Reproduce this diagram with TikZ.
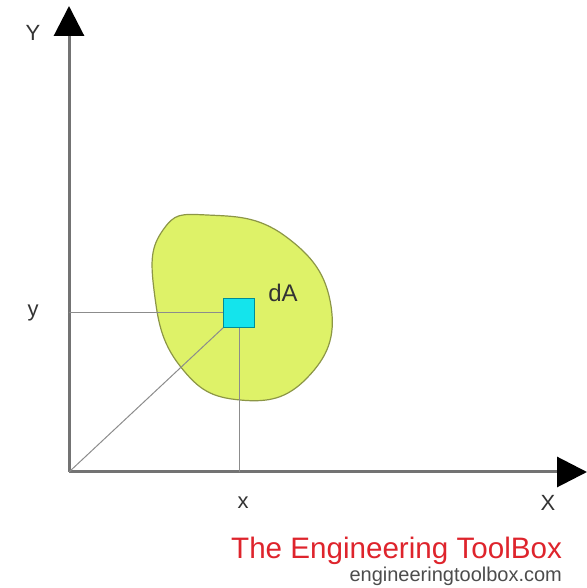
\documentclass[tikz,border=0pt]{standalone}
\usepackage{fontspec}
\setmainfont{Liberation Sans}
\usepackage{xcolor}
\usetikzlibrary{arrows.meta,positioning,calc}

\definecolor{areafill}{RGB}{222,242,104}
\definecolor{areaedge}{RGB}{140,150,70}
\definecolor{cellfill}{RGB}{20,228,236}
\definecolor{celledge}{RGB}{0,140,150}
\definecolor{brandred}{RGB}{222,36,44}

\begin{document}
\begin{tikzpicture}[
    x=0.5pt, y=0.5pt,
    axis/.style={line width=1.5pt, draw=black!55, -{Triangle[length=15pt, width=15pt, color=black]}},
    guide/.style={line width=0.5pt, draw=black!45},
    area/.style={fill=areafill, draw=areaedge, line width=0.6pt},
    cell/.style={rectangle, draw=celledge, fill=cellfill, line width=0.8pt, minimum width=15.5pt, minimum height=14.5pt, inner sep=0pt},
    axlabel/.style={font=\fontsize{11}{13}\selectfont, text=black!80}
]
    \useasboundingbox (0,0) rectangle (587,588);

    % Area
    \draw[area] plot[smooth cycle, tension=0.8] coordinates {
        (207,373) (285,352) (331,282) (307,210) (240,188)
        (180,222) (154,298) (163,358)};

    % Axes
    \coordinate (O) at (69,116);
    \coordinate (ytip) at (69,582);
    \coordinate (xtip) at (587,116);
    \draw[axis] (O) -- (ytip);
    \draw[axis] (O) -- (xtip);

    % Element dA
    \coordinate (c) at (239,275);
    \coordinate (xfoot) at (c |- O);
    \coordinate (yfoot) at (O |- c);
    \draw[guide] (O) -- (c);
    \draw[guide] (yfoot) -- (c);
    \draw[guide] (c) -- (xfoot);
    \node[cell] (sq) at (c) {};
    \node[axlabel, font=\fontsize{12}{14}\selectfont] (dA) at ($(sq.center)+(44,20)$) {dA};

    % Labels
    \node[axlabel] (ylab) at (33,555) {Y};
    \node[axlabel] (xlab) at (548,85) {X};
    \node[axlabel] (ymark) at (33,275) {y};
    \node[axlabel] (xmark) at (243,85) {x};

    % Brand
    \node[text=brandred, font=\fontsize{14.8}{16}\selectfont, anchor=east] (brand) at (569,37) {The Engineering ToolBox};
    \node[text=black!70, font=\fontsize{10}{12}\selectfont, anchor=east] (url) at (569,12) {engineeringtoolbox.com};
\end{tikzpicture}
\end{document}
